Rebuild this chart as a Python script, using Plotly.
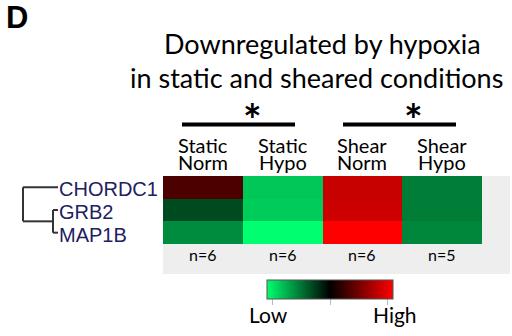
import plotly.graph_objects as go

# --- data -------------------------------------------------------------
genes = ["CHORDC1", "GRB2", "MAP1B"]
cond_top = ["Static", "Static", "Shear", "Shear"]
cond_bottom = ["Norm", "Hypo", "Norm", "Hypo"]
conditions = [f"{a} {b}" for a, b in zip(cond_top, cond_bottom)]
n_samples = [6, 6, 6, 5]
# relative expression (row-scaled), low = green, high = red
expr = [
    [0.30, -0.78, 0.78, -0.49],
    [-0.29, -0.80, 0.80, -0.49],
    [-0.55, -1.00, 1.00, -0.53],
]

W, H = 512, 336


def px(x):
    return x / W


def py(y):
    return 1 - y / H


colorscale = [[0.0, "rgb(0,255,112)"], [0.5, "rgb(0,0,0)"], [1.0, "rgb(255,0,0)"]]

fig = go.Figure()
fig.add_trace(go.Heatmap(
    z=expr, x=conditions, y=genes,
    colorscale=colorscale, zmin=-1, zmax=1,
    xgap=0, ygap=0,
    colorbar=dict(
        orientation="h", lenmode="pixels", len=126, thickness=19,
        x=px(330), xanchor="center", y=py(280), yanchor="top",
        xpad=0, ypad=0, outlinewidth=1, outlinecolor="#555555",
        tickvals=[-0.92, 0, 0.92], ticks="outside", ticklen=6,
        tickcolor="#bbbbbb", ticklabelposition="outside top",
        showticklabels=False,
    ),
    hoverinfo="skip",
))

fig.update_layout(
    width=W, height=H, margin=dict(l=0, r=0, t=0, b=0),
    paper_bgcolor="white", plot_bgcolor="rgba(0,0,0,0)",
    showlegend=False,
    xaxis=dict(domain=[px(163), px(482)], range=[-0.5, 3.5],
               visible=False, fixedrange=True),
    yaxis=dict(domain=[py(244), py(176)], range=[2.5, -0.5],
               visible=False, fixedrange=True),
)

shapes = []
# grey panel behind the heatmap and sample counts
shapes.append(dict(type="rect", xref="paper", yref="paper",
                   x0=px(163), x1=px(510), y0=py(274), y1=py(176),
                   fillcolor="#eeeeee", line=dict(width=0), layer="below"))
# significance bars
for x0, x1 in [(182, 295), (343, 456)]:
    shapes.append(dict(type="line", xref="paper", yref="paper",
                       x0=px(x0), x1=px(x1), y0=py(124.5), y1=py(124.5),
                       line=dict(color="black", width=4)))
# dendrogram
dcol = dict(color="#333333", width=2)
shapes += [
    dict(type="line", xref="paper", yref="y", x0=px(23), x1=px(58), y0=0, y1=0, line=dcol),
    dict(type="line", xref="paper", yref="y", x0=px(23), x1=px(23), y0=0, y1=1.5, line=dcol),
    dict(type="line", xref="paper", yref="y", x0=px(23), x1=px(53), y0=1.5, y1=1.5, line=dcol),
    dict(type="line", xref="paper", yref="y", x0=px(53), x1=px(53), y0=1, y1=2, line=dcol),
    dict(type="line", xref="paper", yref="y", x0=px(53), x1=px(58), y0=1, y1=1, line=dcol),
    dict(type="line", xref="paper", yref="y", x0=px(53), x1=px(58), y0=2, y1=2, line=dcol),
]
fig.update_layout(shapes=shapes)

ann = []
sans = "Lato"
# panel letter
ann.append(dict(text="<b>D</b>", xref="paper", yref="paper", x=px(4), y=py(17),
                xanchor="left", yanchor="middle", showarrow=False,
                font=dict(family="Liberation Sans", size=31, color="black")))
# title
ann.append(dict(text="Downregulated by hypoxia", xref="paper", yref="paper",
                x=px(322.5), y=py(44), xanchor="center", yanchor="middle",
                showarrow=False, font=dict(family=sans, size=27, color="black")))
ann.append(dict(text="in static and sheared conditions", xref="paper", yref="paper",
                x=px(316.5), y=py(77.5), xanchor="center", yanchor="middle",
                showarrow=False, font=dict(family=sans, size=27, color="black")))
# asterisks
for xc in [252, 413]:
    ann.append(dict(text="<b>*</b>", xref="paper", yref="paper", x=px(xc), y=py(119),
                    xanchor="center", yanchor="middle", showarrow=False,
                    font=dict(family=sans, size=44, color="black")))
# column labels
for c, top, bot in zip(conditions, cond_top, cond_bottom):
    ann.append(dict(text=top, xref="x", yref="paper", x=c, y=py(144.5),
                    xanchor="center", yanchor="middle", showarrow=False,
                    font=dict(family=sans, size=20, color="black")))
    ann.append(dict(text=bot, xref="x", yref="paper", x=c, y=py(161.5),
                    xanchor="center", yanchor="middle", showarrow=False,
                    font=dict(family=sans, size=20, color="black")))
# sample counts
for c, n in zip(conditions, n_samples):
    ann.append(dict(text=f"n={n}", xref="x", yref="paper", x=c, y=py(254.5),
                    xanchor="center", yanchor="middle", showarrow=False,
                    font=dict(family=sans, size=16, color="black")))
# gene labels
for g in genes:
    ann.append(dict(text=g, xref="paper", yref="y", x=px(57), y=g, yshift=-2,
                    xanchor="left", yanchor="middle", showarrow=False,
                    font=dict(family="Liberation Sans", size=20, color="#202060")))
# colour key labels
ann.append(dict(text="Low", xref="paper", yref="paper", x=px(268), y=py(314),
                xanchor="center", yanchor="middle", showarrow=False,
                font=dict(family=sans, size=21, color="black")))
ann.append(dict(text="High", xref="paper", yref="paper", x=px(394.5), y=py(314),
                xanchor="center", yanchor="middle", showarrow=False,
                font=dict(family=sans, size=21, color="black")))
fig.update_layout(annotations=ann)

fig.write_html("out.html")
